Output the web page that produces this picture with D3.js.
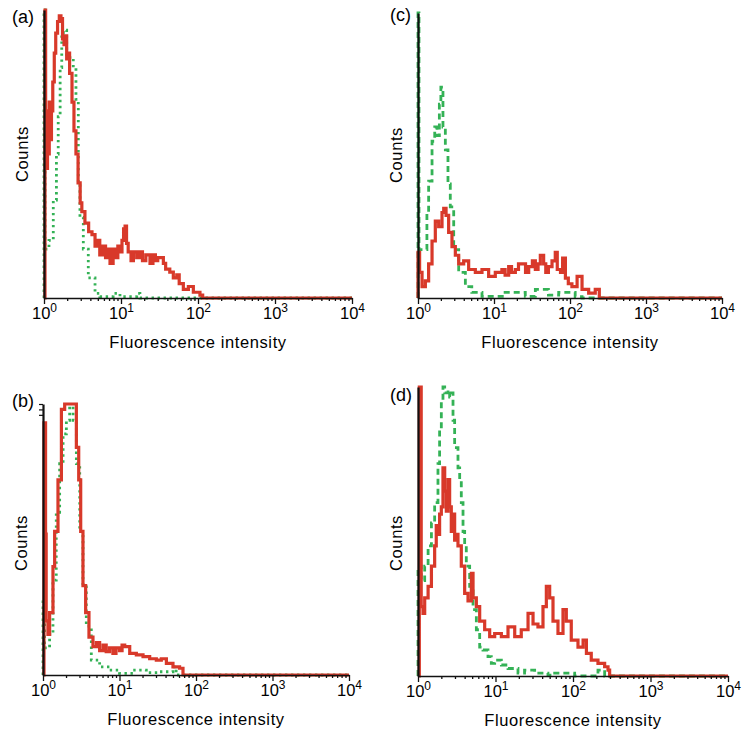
<!DOCTYPE html>
<html>
<head>
<meta charset="utf-8">
<script src="https://cdn.jsdelivr.net/npm/d3@7"></script>
<style>
body { margin: 0; background: #fff; }
svg text { font-family: "Liberation Sans", Arial, sans-serif; fill: #000; }
</style>
</head>
<body>
<svg id="chart" width="750" height="729"></svg>
<script>
// histogram bins: [fluorescence intensity (bin start), relative counts 0-100]
var redA = [[1,0],[1.03,100],[1.05,60],[1.08,45],[1.11,65],[1.14,50],[1.17,68],[1.2,55],[1.25,65],[1.3,75],[1.36,85],
  [1.42,92],[1.5,96],[1.58,98],[1.66,97],[1.74,90],[1.82,88],[1.9,91],[1.97,83],[2.05,85],[2.15,78],[2.31,68],[2.45,58],
  [2.6,50],[2.77,40],[2.95,33],[3.1,30],[3.4,26],[3.8,23],[4.2,22],[4.6,18],[4.9,20],[5.3,15],[5.8,18],[6.3,14],[6.8,17],
  [7.2,12],[7.9,17],[8.5,14],[9.1,18],[9.7,16],[10.3,20],[10.8,24],[11.3,25],[11.8,19],[12.4,16],[13.5,13],[14.5,16],
  [16,14],[17.5,16],[19,13],[21,15],[23.8,12],[26,15],[28,13],[30,14],[35.5,12],[38,10],[43,9],[47.8,7],[53,8],[57,5],
  [64.5,3],[75,4],[87,2],[95,2],[106,1],[115,0],[10000,0]]
var greenA = [[1,0],[1,100],[1.03,17],[1.16,20],[1.32,34],[1.45,50],[1.53,63],[1.62,80],[1.7,92],[1.78,93],[1.97,84],
  [2.17,83],[2.4,80],[2.6,69],[2.79,40],[2.93,28],[3.24,17],[3.76,7],[4.6,1.6],[5.3,0.5],[7.9,1.6],[9.7,0.5],[16,1.6],
  [17.6,0],[10000,0]]

var redB = [[1,0],[1.03,93],[1.08,52],[1.1,20],[1.16,15],[1.22,23],[1.35,40],[1.42,53],[1.57,72],[1.74,98],[1.92,100],
  [2.23,100],[2.59,100],[2.73,84],[2.93,72],[3.11,53],[3.33,33],[3.61,23],[3.99,14],[4.5,10.5],[5.0,12],[5.5,9],[6.1,11],
  [6.7,8.6],[7.4,10],[8.2,8],[9,10],[10,9],[10.8,11],[11.7,10.5],[13.6,8],[16.6,7.4],[20.3,6.8],[24.8,6],[30.3,5.5],
  [35.2,6],[41,4.3],[50,3],[61,2.5],[67.6,0],[10000,0]]
var greenB = [[1,0],[1,28],[1.05,10],[1.1,10],[1.22,15],[1.35,35],[1.49,60],[1.65,78],[1.83,89],[2.02,94],[2.23,99],
  [2.47,94],[2.73,78],[3.02,53],[3.33,33],[3.68,18],[4.28,5.5],[5.5,3],[7.4,1.8],[10,0.6],[15,1.8],[22.4,0.9],[33.5,1.2],
  [50,3],[55,0],[10000,0]]

var redC = [[1,0],[1,16],[1.05,9],[1.13,4],[1.25,6],[1.38,12],[1.53,20],[1.69,27],[1.87,25],[2.07,30],[2.18,31.5],
  [2.34,29],[2.53,23],[2.8,18],[3.1,15],[3.43,12],[3.99,13],[4.64,10],[5.68,9],[6.95,10],[8.5,7.6],[10.4,9],[12.7,10],
  [14,8],[15.6,11],[17,9],[19.1,10],[21,12],[23.4,12],[26,9],[28.6,11],[32,13],[35,10],[38,12],[40.7,15],[45,12],[48,9],
  [52,11],[58,13],[64,16],[68,10],[75,9],[80,14],[87,7],[95,5],[106,4],[124,7.6],[144,3],[176,1.7],[215,3],[243,0],
  [10000,0]]
var greenC = [[1,0],[1,100],[1.03,17],[1.19,17],[1.31,30],[1.38,41],[1.53,55],[1.66,60],[1.78,57],[1.91,68],[2.0,74],
  [2.13,60],[2.29,52],[2.48,40],[2.66,32],[2.95,17],[3.43,9],[4.2,4],[5.1,2],[6.95,0.6],[14,2],[25.8,0.6],[35,3],[52,1],
  [71,2],[117,0.5],[144,0],[10000,0]]

var redD = [[1,0],[1.04,100],[1.1,24],[1.16,21.7],[1.22,27],[1.35,31],[1.49,38],[1.64,45],[1.72,52],[1.81,49],[1.9,56],
  [2.0,58.5],[2.1,72],[2.21,64],[2.32,57],[2.44,68],[2.56,58.5],[2.69,50],[2.83,56],[2.97,47],[3.12,49],[3.28,45],
  [3.62,38],[4.0,28.6],[4.42,26],[4.88,35.5],[5.13,27],[5.66,24],[6.25,19],[7.25,16],[8.41,13.6],[9.76,14.7],[11.9,13.6],
  [14.5,17],[17.7,13.6],[21.5,16],[26.3,21.7],[30.5,18],[35.3,17],[41,24],[45.3,31],[50,27],[55.2,19],[64,14.7],
  [74.3,23],[82,19],[95,12.4],[116,10],[135,12.4],[149,7.8],[172,5.5],[210,4.4],[256,3.2],[283,2],[297,0],[10000,0]]
var greenD = [[1,0],[1,38],[1.05,38],[1.1,33],[1.22,38],[1.35,45],[1.49,53],[1.64,60],[1.81,73.5],[1.9,85],[2.0,95],
  [2.1,100],[2.21,98],[2.44,99],[2.56,96.5],[2.69,98],[2.83,88.5],[2.97,79],[3.28,72],[3.45,68],[3.62,60],[3.81,50],
  [4.0,45],[4.2,38],[4.64,31],[5.13,23],[5.66,16],[6.25,10],[6.89,9],[8.0,6.7],[8.83,4.4],[9.76,5.5],[11.9,3.8],
  [14.5,2.6],[19.5,1],[23.7,2],[32,1],[47.5,0.3],[58,1],[105,0],[210,2],[256,0],[10000,0]]

var xMajor =      [1, 10, 100, 1000, 10000]
var xExponents =  ['0', '1', '2', '3', '4']
var xTitle =      'Fluorescence intensity'
var yTitle =      'Counts'

var colorRed =    '#d8392a'
var colorGreen =  '#34b256'

// panel placement on the page
var panels = [
    { name: '(a)', red: redA, green: greenA, dash: '2.4,3.6', x0: 44,  x1: 352, top: 10,  bottom: 298, lx: 12,  ly: 23,  cy: 154 },
    { name: '(c)', red: redC, green: greenC, dash: '6,4',     x0: 418, x1: 722, top: 13,  bottom: 298, lx: 390, ly: 21,  cy: 155 },
    { name: '(b)', red: redB, green: greenB, dash: '2.4,3.6', x0: 43,  x1: 349, top: 404, bottom: 675, lx: 12,  ly: 407, cy: 543, yTicks: [100, 98, 96] },
    { name: '(d)', red: redD, green: greenD, dash: '6,4',     x0: 418, x1: 728, top: 387, bottom: 676, lx: 390, ly: 401, cy: 543 }
]

var svg = d3.select('#chart')

function drawPanel(p) {
    var x = d3.scaleLog().domain([1, 10000]).range([p.x0, p.x1])
    var y = d3.scaleLinear().domain([0, 100]).range([p.bottom, p.top])
    var line = d3.line()
        .x(d => x(d[0]))
        .y(d => y(d[1]))
        .curve(d3.curveStepAfter)

    var g = svg.append('g')

    g.append('path')
        .datum(p.green)
        .attr('d', line)
        .attr('fill', 'none')
        .attr('stroke', colorGreen)
        .attr('stroke-width', 2.8)
        .attr('stroke-dasharray', p.dash)

    g.append('path')
        .datum(p.red)
        .attr('d', line)
        .attr('fill', 'none')
        .attr('stroke', colorRed)
        .attr('stroke-width', 3.2)
        .attr('stroke-linejoin', 'miter')

    // minor ticks
    var minor = x.ticks().filter(v => xMajor.indexOf(v) < 0)
    g.append('g')
        .attr('transform', `translate(0,${p.bottom})`)
        .call(d3.axisBottom(x).tickValues(minor).tickSize(3).tickSizeOuter(0).tickFormat(''))
        .call(a => a.select('.domain').remove())

    var xa = g.append('g')
        .attr('transform', `translate(0,${p.bottom})`)
        .call(d3.axisBottom(x).tickValues(xMajor).tickSize(6).tickSizeOuter(0).tickFormat(''))
    xa.select('.domain').attr('stroke', '#111').attr('stroke-width', 1.6)
    g.selectAll('.tick line').attr('stroke', '#111').attr('stroke-width', 1.3)

    var lbl = xa.selectAll('.tick').append('text')
        .attr('y', 21)
        .attr('text-anchor', 'middle')
        .attr('fill', '#000')
        .style('font-size', '16.5px')
    lbl.append('tspan').text('10')
    lbl.append('tspan')
        .attr('dy', -7)
        .style('font-size', '12px')
        .text((d, i) => xExponents[i])

    var ya = g.append('g')
        .attr('transform', `translate(${p.x0},0)`)
        .call(d3.axisLeft(y).tickValues(p.yTicks || []).tickSize(4).tickSizeOuter(0).tickFormat(''))
    ya.select('.domain').attr('stroke', '#111').attr('stroke-width', 2.2)
    ya.selectAll('.tick line').attr('stroke', '#111').attr('stroke-width', 1.2)

    g.append('text')
        .attr('x', (p.x0 + p.x1) / 2)
        .attr('y', p.bottom + 50)
        .attr('text-anchor', 'middle')
        .style('font-size', '16.5px')
        .style('letter-spacing', '0.6px')
        .text(xTitle)

    g.append('text')
        .attr('transform', `translate(${p.x0 - 16},${p.cy}) rotate(-90)`)
        .attr('text-anchor', 'middle')
        .style('font-size', '16.5px')
        .style('letter-spacing', '0.6px')
        .text(yTitle)

    g.append('text')
        .attr('x', p.lx)
        .attr('y', p.ly)
        .style('font-size', '18px')
        .text(p.name)
}

panels.forEach(drawPanel)
</script>
</body>
</html>
